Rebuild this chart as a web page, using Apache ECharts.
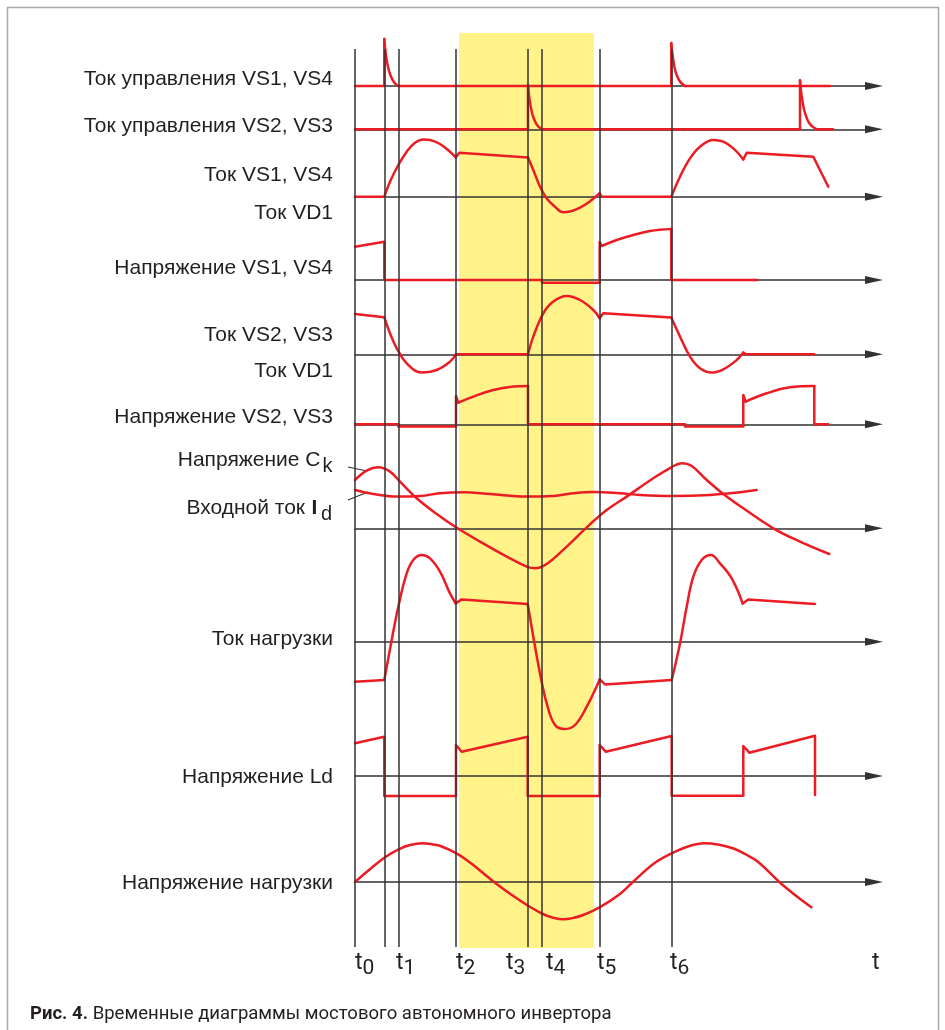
<!DOCTYPE html>
<html>
<head>
<meta charset="utf-8">
<script src="https://cdn.jsdelivr.net/npm/echarts@6/dist/echarts.min.js"></script>
<style>
html, body { margin: 0; padding: 0; background: #fff; }
#chart { width: 945px; height: 1030px; }
</style>
</head>
<body>
<div id="chart"></div>
<script>
// straight and curved pieces of a waveform
function line(p) { return {smooth: false, pts: p}; }
function curve(p) { return {smooth: true, pts: p}; }

// time marks t0..t6 (vertical lines), the extra line between t0 and t1 included
var timeLines = [0, 29.3, 43.3, 101, 173, 187, 244.7, 316.3];
// highlighted interval
var bandRange = [104, 239];
// t labels under the axis
var tickLabelPos = [0, 41, 101, 151, 191, 242, 315, 517];
var tickLabelSub = ['0', '1', '2', '3', '4', '5', '6', ''];

// waveforms, [time, value]
var ctrlVS14 = [
  line([[0,0],[29.3,0],[29.3,47]]),
  curve([[29.3,47],[30.3,36],[31.7,26],[33.3,17.7],[35,12],[37.3,6.7],[40,2.7],[43.3,0]]),
  line([[43.3,0],[316.3,0],[316.3,43]]),
  curve([[316.3,43],[317.3,33],[318.6,24],[320,16.5],[321.7,11],[324,6],[326.7,2.5],[330,0]]),
  line([[330,0],[475,0]])
];
var ctrlVS23 = [
  line([[0,0],[173,0],[173,44]]),
  curve([[173,44],[174,34],[175.4,24.5],[177,16.5],[178.7,11],[181,6],[183.7,2.5],[187,0]]),
  line([[187,0],[445,0],[445,49]]),
  curve([[445,49],[446.2,37],[447.7,26.5],[449.5,18],[451.5,12],[454,6.5],[457.5,2.7],[462,0]]),
  line([[462,0],[478,0]])
];
var curVS14 = [
  line([[0,0],[29.3,0]]),
  curve([[29.3,0],[35,15],[43.3,31.7],[51.7,45],[60,54],[68.3,57.3],[75,56.7],[85,52.7],[95,45],[100.7,39.3]]),
  line([[100.7,39.3],[104.3,44],[173,39.3]]),
  curve([[173,39.3],[178.3,26.7],[185,10],[191.7,-1.7],[200,-10],[208,-15.5],[216,-14.5],[225,-11],
    [235,-4.5],[244.7,3.4]]),
  line([[244.7,3.4],[246.7,0],[316.3,0]]),
  curve([[316.3,0],[325,20],[335,38.3],[345,50],[358.3,56.7],[368.3,55],[378.3,48.3],[388.3,37.3]]),
  line([[388.3,37.3],[391.7,44],[458.3,40],[473.3,10]])
];
var voltVS14 = [
  line([[0,33.3],[29.3,38.3],[29.3,0],[187,0],[187,-2.7],[244.7,-2.7],[244.7,38],[246.7,34]]),
  curve([[246.7,34],[261.7,40],[278.3,45],[295,49],[316.3,51]]),
  line([[316.3,51],[316.3,0],[402.3,0]])
];
var curVS23 = [
  line([[0,40.3],[29.3,37]]),
  curve([[29.3,37],[35,21],[41.7,6],[51.7,-9],[66.7,-18.3],[81.7,-15.7],[95,-7.3],[101,0]]),
  line([[101,0],[173,0]]),
  curve([[173,0],[178.3,17.7],[188.3,41],[198.3,52.7],[211.7,58.3],[225,54.3],[238.3,44.3],[244.7,36]]),
  line([[244.7,36],[248.3,41],[316.3,36.7]]),
  curve([[316.3,36.7],[325,17.7],[335,-2.3],[345,-14],[356.7,-18.3],[368.3,-15],[381.7,-5.7],[388.3,1.7]]),
  line([[388.3,1.7],[391,0],[459.3,0]])
];
var voltVS23 = [
  line([[0,0],[43.3,0],[43.3,-2.3],[101,-2.3],[101,28.3],[103.3,21.7]]),
  curve([[103.3,21.7],[118.3,27.7],[138.3,34.3],[158.3,37.7],[173,38.3]]),
  line([[173,38.3],[173,0],[330,0],[330,-2.3],[388.3,-2.3],[388.3,29.3],[390.7,22.7]]),
  curve([[390.7,22.7],[411.7,31],[435,37],[459.3,38.3]]),
  line([[459.3,38.3],[459.3,0],[473.3,0]])
];
var capVolt = [
  curve([[0,48.3],[11.7,57.7],[23.3,61],[35,56.7],[45,46.7],[61.7,30],[81.7,14.3],[101,1],[125,-13.3],
    [151.7,-28.3],[171.7,-38.3],[180,-40],[191.7,-35.7],[211.7,-18.3],[231.7,1],[251.7,18.3],[271.7,31.7],
    [298.3,50],[316.3,61],[326.7,65],[336.7,62.3],[351.7,48.3],[368.3,34.3],[388.3,20],[418.3,0],
    [445,-13.3],[474.3,-25.7]])
];
var inputCur = [
  curve([[0,38.3],[18.3,34.3],[41.7,31.7],[65,32.3],[85,35],[108.3,36],[135,34.3],[171.7,31.7],
    [198.3,32.3],[218.3,35],[238.3,36.3],[265,35],[285,33.3],[316.3,32.3],[355,33.3],[385,36],[401.7,38.3]])
];
var loadCur = [
  line([[0,-40],[29.3,-38.3]]),
  curve([[29.3,-38.3],[36.7,1.7],[43.3,35],[51.7,68.3],[58.3,81.7],[66.7,86.7],[75,83.3],[85,70],
    [95,48.3],[100.7,38.3]]),
  line([[100.7,38.3],[106.7,42.3],[172.7,37.7]]),
  curve([[172.7,37.7],[178.3,5],[185,-31.7],[191.7,-61.7],[200,-83.3],[210,-87.3],[220,-83.3],
    [231.7,-65],[244.7,-37.7]]),
  line([[244.7,-37.7],[250,-42.7],[316.7,-38.3]]),
  curve([[316.7,-38.3],[325,-1.7],[331.7,35],[338.3,65],[346.7,81.7],[356,86.7],[365,78.3],[376.7,63.3],
    [387.7,38.3]]),
  line([[387.7,38.3],[393.3,42.3],[460,37.7]])
];
var loadVoltLd = [
  line([[0,32.7],[29.3,39.3],[29.3,-20],[101,-20],[101,31],[106.7,24.3],[172.7,39.3],[172.7,-20],
    [244.7,-20],[244.7,31],[250.7,24.3],[316.7,40],[316.7,-19.7],[388.3,-19.7],[388.3,30],[394.3,23.3],
    [460,40.3],[460,-19]])
];
var loadVolt = [
  curve([[0,0],[14,12],[30,24.7],[43.6,32.7],[55,37],[67.5,38.7],[78,37.5],[85.4,36],[101.5,28.7],
    [115,19.5],[128.3,8.7],[139,0],[156.8,-13],[173.6,-24],[187.9,-32],[198,-35.7],[208.6,-37.3],[218,-36],
    [228,-33],[244.6,-25.3],[263.6,-13],[277.9,0],[299.3,18.7],[316.8,28.7],[333,35.5],[349.3,38.7],
    [363,37.5],[377.9,33.7],[390,28],[402.9,20.3],[424.3,0],[440,-13],[456.4,-25.3]])
];

// rows: which waveforms share one time axis
var rowSeries = [[ctrlVS14], [ctrlVS23], [curVS14], [voltVS14], [curVS23], [voltVS23],
  [capVolt, inputCur], [loadCur], [loadVoltLd], [loadVolt]];
var rowLabels = ['Ток управления VS1, VS4', 'Ток управления VS2, VS3', 'Ток VS1, VS4', 'Ток VD1',
  'Напряжение VS1, VS4', 'Ток VS2, VS3', 'Ток VD1', 'Напряжение VS2, VS3', 'Ток нагрузки',
  'Напряжение Ld', 'Напряжение нагрузки'];

// layout
var rowBase = [86, 129.3, 196.7, 280, 354.3, 424.3, 528.3, 641.7, 776, 882];
var labelY = [79.5, 126.5, 175.5, 213, 268, 335, 371, 417, 639, 777, 883];
var PLOT_LEFT = 355, PLOT_W = 519, T_MAX = 519, ROW_R = 50;
var RED = '#ec1c24', INK = '#333333', TXT = '#231f20';
var FONT = '"Liberation Sans", Arial, sans-serif';

var grids = [
  {left: PLOT_LEFT, width: PLOT_W, top: 33, height: 915},
  {left: PLOT_LEFT, width: PLOT_W, top: 49, height: 898}
];
var xAxes = [
  {type: 'value', gridIndex: 0, min: 0, max: T_MAX, show: false},
  {type: 'value', gridIndex: 1, min: 0, max: T_MAX,
    axisLine: {show: false}, axisTick: {show: false}, splitLine: {show: false},
    axisLabel: {
      customValues: tickLabelPos, align: 'left', margin: 5,
      formatter: function (v) {
        var i = tickLabelPos.indexOf(v);
        var s = tickLabelSub[i];
        return '{t|t}' + (s ? '{s|' + s + '}' : '');
      },
      rich: {
        t: {fontSize: 23, lineHeight: 23, verticalAlign: 'top', fontFamily: 'Roboto', color: TXT},
        s: {fontSize: 21, lineHeight: 21, padding: [6, 0, 0, 0], verticalAlign: 'top', fontFamily: 'Roboto', color: TXT}
      }
    }}
];
var yAxes = [
  {type: 'value', gridIndex: 0, min: 0, max: 1, show: false},
  {type: 'value', gridIndex: 1, min: 0, max: 1, show: false}
];
var series = [
  {type: 'line', xAxisIndex: 0, yAxisIndex: 0, data: [[0, 0]], symbol: 'none',
    lineStyle: {opacity: 0}, z: 1, silent: true,
    markArea: {silent: true, itemStyle: {color: '#fff389'},
      data: [[{xAxis: bandRange[0]}, {xAxis: bandRange[1]}]]}},
  {type: 'line', xAxisIndex: 1, yAxisIndex: 1, data: [[0, 0]], symbol: 'none',
    lineStyle: {opacity: 0}, z: 2, silent: true,
    markLine: {silent: true, symbol: ['none', 'none'], label: {show: false},
      lineStyle: {color: INK, width: 1.5, type: 'solid'},
      data: timeLines.map(function (t) { return {xAxis: t}; })}}
];

rowBase.forEach(function (b, r) {
  var g = grids.length;
  grids.push({left: PLOT_LEFT, width: PLOT_W, top: b - ROW_R, height: 2 * ROW_R});
  xAxes.push({type: 'value', gridIndex: g, min: 0, max: T_MAX, z: 3,
    axisLine: {show: true, onZero: true, symbol: ['none', 'triangle'], symbolSize: [8, 18],
      lineStyle: {color: INK, width: 1.5}},
    axisTick: {show: false}, axisLabel: {show: false}, splitLine: {show: false}});
  yAxes.push({type: 'value', gridIndex: g, min: -ROW_R, max: ROW_R, show: false});
  rowSeries[r].forEach(function (wave) {
    wave.forEach(function (piece) {
      series.push({type: 'line', xAxisIndex: g, yAxisIndex: g, data: piece.pts, symbol: 'none',
        showSymbol: false, z: 4, silent: true, clip: false, smooth: piece.smooth ? 0.4 : false,
        lineStyle: {color: RED, width: 2.5, join: 'round', cap: 'round'}});
    });
  });
});

var graphics = [
  {type: 'rect', shape: {x: 7.5, y: 7.5, width: 931, height: 1040},
    style: {fill: 'transparent', stroke: '#a8a8a8', lineWidth: 1.5}, silent: true}
];
rowLabels.forEach(function (txt, i) {
  graphics.push({type: 'text', x: 333, y: labelY[i], silent: true,
    style: {text: txt, fill: TXT, fontSize: 21, fontFamily: FONT,
      textAlign: 'right', textVerticalAlign: 'middle'}});
});
// labels with subscripts
graphics.push(
  {type: 'text', x: 320.5, y: 460, silent: true,
    style: {text: 'Напряжение C', fill: TXT, fontSize: 21, fontFamily: FONT, textAlign: 'right', textVerticalAlign: 'middle'}},
  {type: 'text', x: 322.5, y: 466, silent: true,
    style: {text: 'k', fill: TXT, fontSize: 20, fontFamily: FONT, textAlign: 'left', textVerticalAlign: 'middle'}},
  {type: 'text', x: 305, y: 508.5, silent: true,
    style: {text: 'Входной ток', fill: TXT, fontSize: 21, fontFamily: FONT, textAlign: 'right', textVerticalAlign: 'middle'}},
  {type: 'text', x: 311.5, y: 508.5, silent: true,
    style: {text: 'I', fill: TXT, fontSize: 21, fontWeight: 'bold', fontFamily: FONT, textAlign: 'left', textVerticalAlign: 'middle'}},
  {type: 'text', x: 321, y: 514.5, silent: true,
    style: {text: 'd', fill: TXT, fontSize: 20, fontFamily: FONT, textAlign: 'left', textVerticalAlign: 'middle'}},
  {type: 'line', shape: {x1: 348, y1: 467, x2: 367, y2: 471}, silent: true,
    style: {stroke: INK, lineWidth: 1.2}},
  {type: 'line', shape: {x1: 348, y1: 500, x2: 368, y2: 492}, silent: true,
    style: {stroke: INK, lineWidth: 1.2}},
  {type: 'text', x: 30, y: 1014, silent: true, scaleX: 0.975,
    style: {text: '{b|Рис. 4.} Временные диаграммы мостового автономного инвертора',
      fill: TXT, fontSize: 19, fontFamily: 'Roboto', textAlign: 'left', textVerticalAlign: 'middle',
      rich: {b: {fontSize: 19, fontWeight: 'bold', fontFamily: 'Roboto', fill: TXT}}}}
);

var chart = echarts.init(document.getElementById('chart'), null, {renderer: 'canvas'});
chart.setOption({
  animation: false,
  backgroundColor: '#ffffff',
  grid: grids,
  xAxis: xAxes,
  yAxis: yAxes,
  series: series,
  graphic: graphics
});
</script>
</body>
</html>
